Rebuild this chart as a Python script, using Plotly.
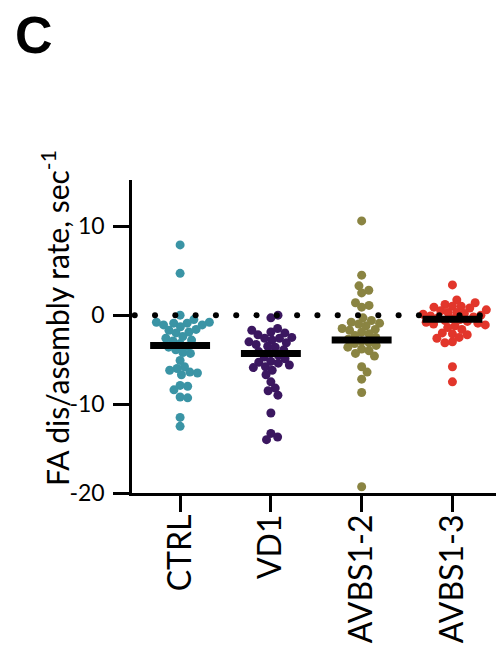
import numpy as np
import plotly.graph_objects as go

# --- data -------------------------------------------------------------
categories = ["CTRL", "VD1", "AVBS1-2", "AVBS1-3"]
colors = ["#3a94a5", "#3b1760", "#8a8442", "#e2362b"]

ctrl = [7.9, 4.7, 0.0, -0.5, -0.8, -0.8, -0.9, -0.9, -1.1, -1.1, -1.3, -1.6,
        -1.7, -1.9, -2.0, -2.4, -2.6, -2.8, -2.9, -3.2, -3.5, -3.6, -3.9, -4.2,
        -4.3, -5.1, -5.8, -6.0, -6.2, -6.4, -6.5, -6.7, -8.0, -7.9, -8.4, -9.2,
        -9.3, -11.5, -12.5]
vd1 = [0.0, -0.3, -1.5, -1.7, -1.9, -2.0, -2.2, -2.5, -2.6, -2.6, -2.8, -3.0,
       -3.1, -3.3, -3.5, -3.6, -3.9, -4.1, -4.3, -4.5, -4.7, -4.9, -5.2, -5.3,
       -5.4, -5.6, -5.8, -5.9, -6.2, -6.7, -7.5, -8.2, -8.5, -9.0, -11.0,
       -13.3, -13.7, -14.0]
avbs12 = [10.6, 4.5, 3.3, 2.8, 2.5, 1.4, 1.1, 0.9, -0.3, -0.6, -0.8, -0.9,
          -1.0, -1.2, -1.5, -1.6, -1.7, -1.9, -2.1, -2.3, -2.5, -2.7, -2.9,
          -3.1, -3.2, -3.4, -3.6, -3.8, -4.0, -4.3, -4.6, -5.8, -6.4, -7.2,
          -8.7, -19.3]
avbs13 = [3.4, 1.7, 1.4, 1.2, 1.0, 1.0, 0.9, 0.8, 0.6, 0.5, 0.3, 0.3, 0.2,
          0.1, 0.0, -0.1, -0.2, -0.3, -0.4, -0.5, -0.6, -0.7, -0.8, -0.9, -1.0,
          -1.1, -1.2, -1.4, -1.6, -2.0, -2.1, -2.2, -2.5, -2.6, -3.0, -3.1,
          -5.8, -7.5]
groups = [ctrl, vd1, avbs12, avbs13]
means = [-3.4, -4.3, -2.8, -0.45]

y_ticks = [10, 0, -10, -20]
y_ticklabels = ["10", "0", "-10", "-20"]

# --- geometry ---------------------------------------------------------
W, H = 496, 648
M_L, M_R, M_T, M_B = 132, 0, 180, 155
X_RANGE = [-0.53, 3.48]
Y_RANGE = [-20, 15.2]
px_x = (W - M_L - M_R) / (X_RANGE[1] - X_RANGE[0])
px_y = (H - M_T - M_B) / (Y_RANGE[1] - Y_RANGE[0])


def swarm_offsets(values, diam=7.6):
    """Beeswarm x-offsets (in category units) for one group."""
    ys = np.asarray(values, dtype=float) * px_y
    order = np.argsort(-np.abs(ys - np.median(ys)))[::-1]
    placed = []
    offs = np.zeros(len(ys))
    for i in order:
        y = ys[i]
        cands = [0.0]
        for (xj, yj) in placed:
            dy = abs(y - yj)
            if dy < diam:
                dx = np.sqrt(diam ** 2 - dy ** 2)
                cands += [xj + dx, xj - dx]
        cands.sort(key=abs)
        for c in cands:
            if all((c - xj) ** 2 + (y - yj) ** 2 >= diam ** 2 - 1e-6
                   for (xj, yj) in placed):
                offs[i] = c
                placed.append((c, y))
                break
    return offs / px_x


fig = go.Figure()

for k, (vals, col) in enumerate(zip(groups, colors)):
    xo = swarm_offsets(vals)
    fig.add_trace(go.Scatter(
        x=k + xo, y=vals, mode="markers",
        marker=dict(size=9, color=col, line=dict(width=0)),
        showlegend=False, hoverinfo="skip"))

# dotted reference line at zero
dot_x = np.arange(X_RANGE[0] + 0.03, X_RANGE[1] + 0.2, 20.3 / px_x)
fig.add_trace(go.Scatter(
    x=dot_x, y=np.zeros_like(dot_x), mode="markers",
    marker=dict(size=6, color="black"), showlegend=False, hoverinfo="skip",
    cliponaxis=False))

# mean bars
half = 0.33
for k, m in enumerate(means):
    fig.add_trace(go.Scatter(
        x=[k - half, k + half], y=[m, m], mode="lines",
        line=dict(color="black", width=7), showlegend=False,
        hoverinfo="skip"))

fig.update_layout(
    width=W, height=H,
    margin=dict(l=M_L, r=M_R, t=M_T, b=M_B, pad=0),
    paper_bgcolor="white", plot_bgcolor="white",
    font=dict(family="Lato, 'Open Sans', sans-serif", color="black"),
    xaxis=dict(
        range=X_RANGE, tickmode="array", tickvals=list(range(len(categories))),
        ticktext=categories, tickangle=-90, ticks="outside", ticklen=16,
        tickwidth=2.5, tickcolor="black", showline=True, linecolor="black",
        linewidth=2.5, showgrid=False, zeroline=False, ticklabelstandoff=-10,
        tickfont=dict(size=32, family="Lato, sans-serif"),
    ),
    yaxis=dict(
        range=Y_RANGE, tickmode="array", tickvals=y_ticks,
        ticktext=y_ticklabels, ticks="outside", ticklen=16, tickwidth=2.5,
        tickcolor="black", showline=True, linecolor="black", linewidth=2.5,
        showgrid=False, zeroline=False, ticklabelstandoff=4,
        tickfont=dict(size=23, family="Lato, sans-serif"),
    ),
    annotations=[
        dict(text="FA dis/asembly rate, sec<sup>-1</sup>", textangle=-90,
             xref="paper", yref="paper",
             x=(55 - M_L) / (W - M_L - M_R), y=(H - 318 - M_B) / (H - M_T - M_B),
             xanchor="center", yanchor="middle", showarrow=False,
             font=dict(size=30, family="Lato, sans-serif", color="black")),
        dict(text="<b>C</b>", xref="paper", yref="paper",
             x=(34 - M_L) / (W - M_L - M_R), y=(H - 35 - M_B) / (H - M_T - M_B),
             xanchor="center", yanchor="middle", showarrow=False,
             font=dict(size=52, family="Liberation Sans, Arial, sans-serif",
                       color="black")),
    ],
)

fig.write_html("out.html")
